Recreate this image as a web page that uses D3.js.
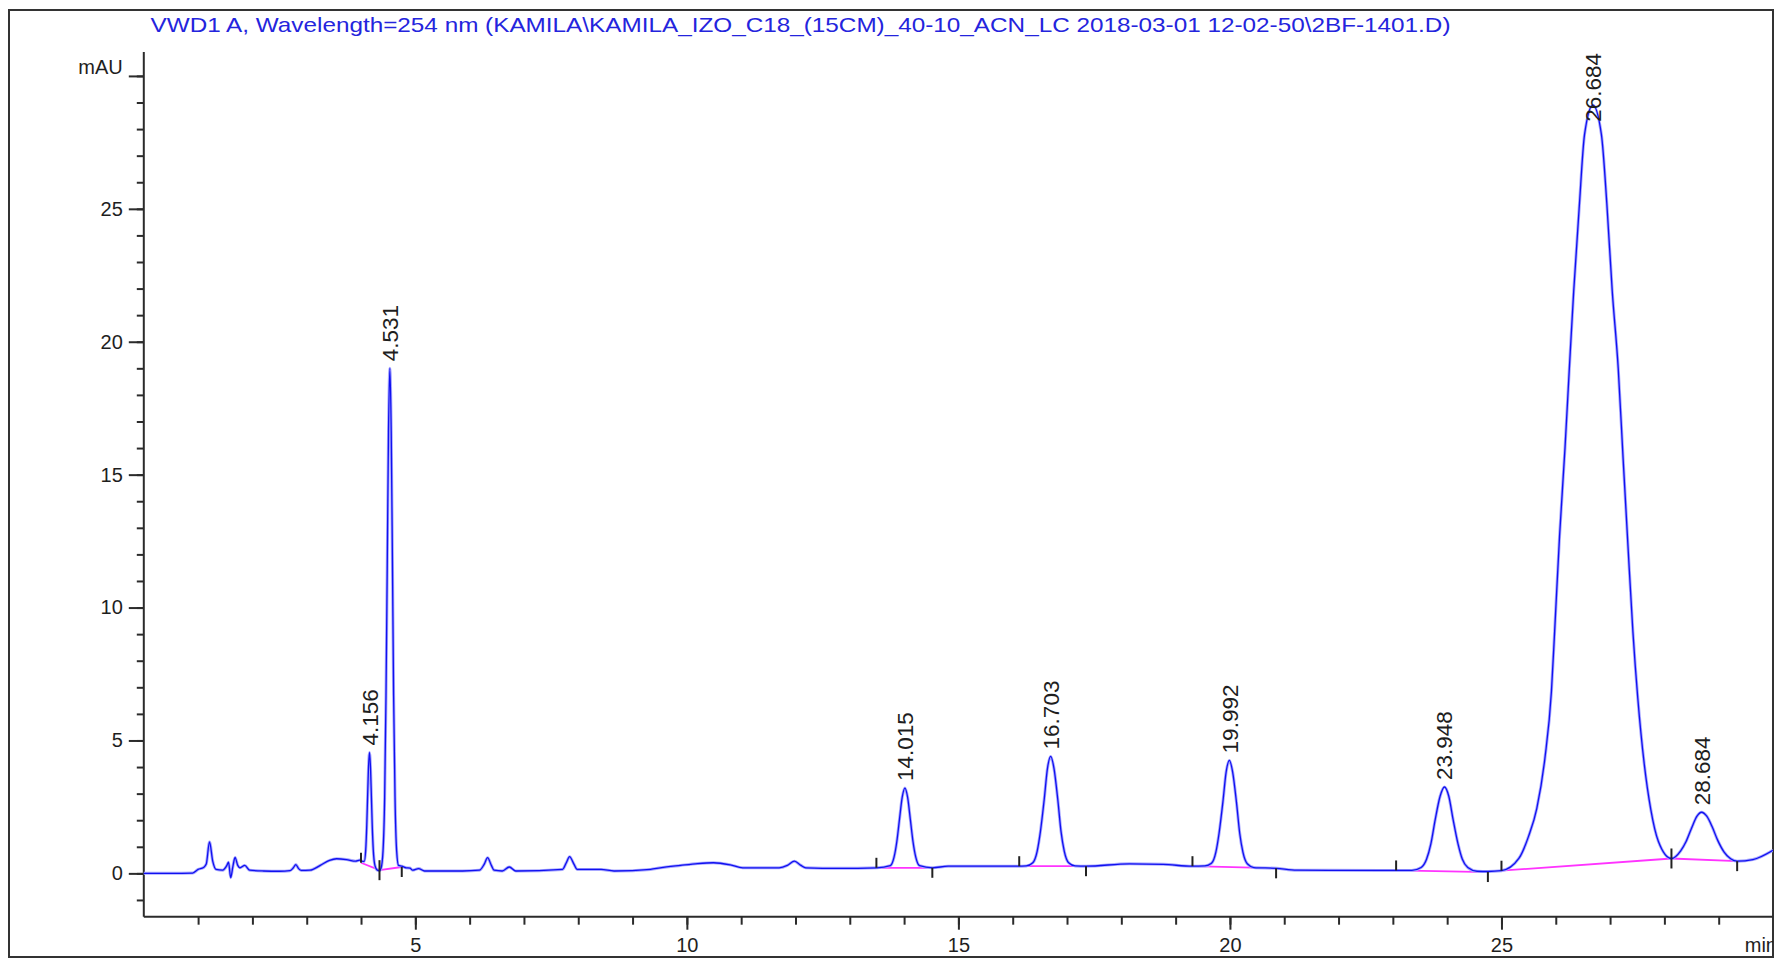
<!DOCTYPE html>
<html><head><meta charset="utf-8">
<script src="https://cdn.jsdelivr.net/npm/d3@7"></script>
<style>
html,body{margin:0;padding:0;background:#fff;}
svg{display:block;font-family:"Liberation Sans",Arial,sans-serif;}
</style></head>
<body>
<svg id="chart" width="1776" height="958"></svg>
<script>
// ---------------- data ----------------
const titleText = "VWD1 A, Wavelength=254 nm (KAMILA\\KAMILA_IZO_C18_(15CM)_40-10_ACN_LC 2018-03-01 12-02-50\\2BF-1401.D)";
const yUnit = "mAU";
const xUnit = "min";
const xMajorTicks = [5, 10, 15, 20, 25];
const xTickLabels = ["5", "10", "15", "20", "25"];
const yMajorTicks = [0, 5, 10, 15, 20, 25];
const yTickLabels = ["0", "5", "10", "15", "20", "25"];

// chromatogram trace: time (min) and signal (mAU)
const traceTime = [
 0.00,0.50,0.90,1.00,1.10,1.15,1.21,1.27,1.33,1.45,1.53,1.56,1.60,1.64,1.68,1.73,1.77,1.86,1.95,2.20,2.50,2.69,2.75,2.80,2.85,2.90,3.06,3.25,3.42,3.55,3.73,3.90,3.98,
 4.03,4.06,4.086,4.106,4.121,4.136,4.156,4.176,4.191,4.206,4.226,4.256,4.30,4.34,
 4.37,4.405,4.435,4.46,4.483,4.506,4.531,4.556,4.579,4.60,4.626,4.656,4.69,4.75,4.83,4.90,4.95,5.06,5.17,
 5.87,6.18,6.27,6.33,6.40,6.45,6.60,6.73,6.85,7.71,7.78,7.84,7.92,7.98,8.42,8.66,9.33,9.51,9.88,10.20,10.49,10.80,11.03,11.70,11.85,11.98,12.10,12.19,12.80,13.50,
 13.745,13.815,13.865,13.915,13.965,14.015,14.065,14.115,14.165,14.215,14.285,14.52,14.81,16.09,
 16.25,16.37,16.45,16.51,16.58,16.64,16.70,16.76,16.83,16.89,16.95,17.03,17.15,17.35,18.15,18.77,19.31,
 19.54,19.66,19.74,19.80,19.87,19.93,19.99,20.05,20.12,20.18,20.24,20.32,20.44,20.85,21.23,22.77,23.06,
 23.35,23.52,23.62,23.70,23.78,23.87,23.95,24.03,24.11,24.20,24.28,24.38,24.55,24.75,25.00,
 25.32,25.50,25.65,25.80,25.92,25.98,26.07,26.17,26.25,26.33,26.43,26.53,26.684,26.84,26.94,27.04,27.15,27.24,27.33,27.42,27.51,27.63,27.75,27.89,28.13,
 28.30,28.40,28.50,28.60,28.684,28.78,28.88,28.98,29.10,29.22,29.34,29.63,30.00
];
const traceMAU = [
 0.00,0.00,0.01,0.15,0.22,0.35,1.18,0.45,0.15,0.12,0.30,0.42,-0.16,0.25,0.60,0.30,0.21,0.30,0.12,0.09,0.08,0.10,0.20,0.33,0.18,0.11,0.12,0.30,0.49,0.55,0.52,0.46,0.50,
 0.45,0.45,0.87,1.83,2.88,3.90,4.55,3.90,2.88,1.83,0.87,0.30,0.12,0.10,
 0.20,0.84,2.85,6.70,11.60,16.60,19.00,16.60,11.60,6.70,2.85,0.84,0.30,0.27,0.21,0.20,0.12,0.18,0.09,
 0.09,0.12,0.35,0.59,0.30,0.12,0.09,0.24,0.09,0.15,0.40,0.63,0.35,0.15,0.15,0.09,0.15,0.21,0.30,0.37,0.40,0.32,0.21,0.21,0.30,0.46,0.30,0.21,0.19,0.21,
 0.29,0.61,1.18,2.03,2.86,3.21,2.86,2.03,1.18,0.61,0.29,0.21,0.27,0.27,
 0.28,0.40,0.83,1.57,2.78,3.95,4.40,3.95,2.78,1.57,0.83,0.40,0.28,0.27,0.36,0.34,0.27,
 0.28,0.38,0.79,1.51,2.68,3.81,4.25,3.81,2.68,1.51,0.79,0.36,0.22,0.19,0.12,0.11,0.11,
 0.11,0.22,0.53,1.11,2.02,2.90,3.25,2.90,2.02,1.11,0.53,0.22,0.08,0.07,0.10,
 0.56,1.40,2.44,4.33,6.84,9.14,12.70,16.00,19.00,21.90,25.00,27.80,28.90,27.80,25.20,21.90,19.00,15.60,12.30,9.10,6.60,4.10,2.40,1.20,0.56,
 0.85,1.20,1.70,2.15,2.30,2.15,1.75,1.25,0.80,0.55,0.46,0.52,0.87
];

// integrated peaks
const peakRT = [4.156, 4.531, 14.015, 16.703, 19.992, 23.948, 26.684, 28.684];
const peakLabels = ["4.156", "4.531", "14.015", "16.703", "19.992", "23.948", "26.684", "28.684"];
const peakApex = [4.55, 19.0, 3.21, 4.40, 4.25, 3.25, 28.9, 2.30];
const baseStartT = [4.00, 4.34, 13.49, 16.12, 19.31, 23.06, 25.00, 28.13];
const baseStartV = [0.40, 0.12, 0.21, 0.27, 0.27, 0.11, 0.10, 0.56];
const baseEndT   = [4.34, 4.75, 14.52, 17.35, 20.85, 24.75, 28.13, 29.34];
const baseEndV   = [0.12, 0.24, 0.21, 0.27, 0.19, 0.05, 0.56, 0.46];

// ---------------- layout ----------------
const svg = d3.select("#chart");
const frame = {x0: 9, y0: 10, x1: 1773, y1: 957};
const plot = {left: 143.8, right: 1773, top: 52, bottom: 916.7};
const x = d3.scaleLinear().domain([0, 30]).range([plot.left, plot.right]);
const y = d3.scaleLinear().domain([-1.63, 30.9]).range([plot.bottom, plot.top]);
const axisColor = "#2b2b2b";
const textColor = "#1e1e1e";

svg.append("defs").append("clipPath").attr("id", "frameClip")
  .append("rect").attr("x", frame.x0).attr("y", frame.y0)
  .attr("width", frame.x1 - frame.x0).attr("height", frame.y1 - frame.y0);

// frame
svg.append("rect").attr("x", frame.x0).attr("y", frame.y0)
  .attr("width", frame.x1 - frame.x0).attr("height", frame.y1 - frame.y0)
  .attr("fill", "none").attr("stroke", "#333").attr("stroke-width", 2);

// title
svg.append("text").attr("x", 150.5).attr("y", 32)
  .attr("font-size", 21).attr("fill", "#2424dd")
  .attr("textLength", 1300).attr("lengthAdjust", "spacingAndGlyphs")
  .text(titleText);

const g = svg.append("g").attr("clip-path", "url(#frameClip)");

// y axis
const yMinor = d3.range(-1, 31);
const yAxis = d3.axisLeft(y).tickValues(yMinor).tickSizeOuter(0)
  .tickSize(7).tickFormat("");
g.append("g").attr("transform", `translate(${plot.left},0)`).call(yAxis)
  .call(s => s.select(".domain").attr("d", `M0,${plot.top}V${plot.bottom}`));
const yMajor = d3.axisLeft(y).tickValues(yMajorTicks.concat([30])).tickSizeOuter(0)
  .tickSize(15).tickPadding(6).tickFormat(d => d === 30 ? yUnit : yTickLabels[yMajorTicks.indexOf(d)]);
const yMajorG = g.append("g").attr("transform", `translate(${plot.left},0)`).call(yMajor)
  .call(s => s.select(".domain").remove());
// the unit label sits just above its tick
yMajorG.selectAll(".tick").filter(d => d === 30).select("text").attr("dy", "-0.12em");

// x axis
const xMinor = d3.range(1, 30);
const xAxis = d3.axisBottom(x).tickValues(xMinor).tickSizeOuter(0).tickSize(8).tickFormat("");
g.append("g").attr("transform", `translate(0,${plot.bottom})`).call(xAxis)
  .call(s => s.select(".domain").attr("d", `M${plot.left},0H${frame.x1}`));
const xMajor = d3.axisBottom(x).tickValues(xMajorTicks).tickSizeOuter(0).tickSize(13).tickPadding(8)
  .tickFormat((d, i) => xTickLabels[i]);
g.append("g").attr("transform", `translate(0,${plot.bottom})`).call(xMajor)
  .call(s => s.select(".domain").remove());
g.append("text").attr("x", x(30) + 4).attr("y", plot.bottom + 35)
  .attr("text-anchor", "end").attr("font-size", 20).attr("fill", textColor).text(xUnit);

svg.selectAll(".tick line").attr("stroke", axisColor).attr("stroke-width", 2);
svg.selectAll(".domain").attr("stroke", axisColor).attr("stroke-width", 2);
svg.selectAll(".tick text").attr("font-size", 20).attr("fill", textColor)
  .attr("font-family", "'Liberation Sans', Arial, sans-serif");

// integration baselines
const blData = peakRT.map((d, i) => ({t0: baseStartT[i], v0: baseStartV[i], t1: baseEndT[i], v1: baseEndV[i]}));
g.selectAll("line.bl").data(blData).join("line").attr("class", "bl")
  .attr("x1", d => x(d.t0)).attr("y1", d => y(d.v0))
  .attr("x2", d => x(d.t1)).attr("y2", d => y(d.v1))
  .attr("stroke", "#ff33ff").attr("stroke-width", 1.8);

// trace
const pts = traceTime.map((t, i) => [t, traceMAU[i]]);
const line = d3.line().x(d => x(d[0])).y(d => y(d[1])).curve(d3.curveMonotoneX);
g.append("path").datum(pts).attr("d", line)
  .attr("fill", "none").attr("stroke", "#a8a8ff").attr("stroke-width", 3);
g.append("path").datum(pts).attr("d", line)
  .attr("fill", "none").attr("stroke", "#1010f0").attr("stroke-width", 1.3);

// baseline tick marks (start: up, end: down)
g.selectAll("line.bs").data(blData).join("line").attr("class", "bs")
  .attr("x1", d => x(d.t0)).attr("x2", d => x(d.t0))
  .attr("y1", d => y(d.v0)).attr("y2", d => y(d.v0) - 10)
  .attr("stroke", "#222").attr("stroke-width", 2);
g.selectAll("line.be").data(blData).join("line").attr("class", "be")
  .attr("x1", d => x(d.t1)).attr("x2", d => x(d.t1))
  .attr("y1", d => y(d.v1)).attr("y2", d => y(d.v1) + 10)
  .attr("stroke", "#222").attr("stroke-width", 2);

// peak labels
const labels = g.selectAll("text.pk").data(peakRT).join("text").attr("class", "pk")
  .attr("font-size", 22.5).attr("fill", textColor)
  .attr("dy", "0.36em")
  .text((d, i) => peakLabels[i]);
labels.each(function(d, i) {
  const len = this.getComputedTextLength();
  let yb = y(peakApex[i]) - 7;
  if (yb - len < plot.top + 1) yb = plot.top + 1 + len;
  d3.select(this).attr("transform", `translate(${x(d)},${yb}) rotate(-90)`);
});
</script>
</body></html>
